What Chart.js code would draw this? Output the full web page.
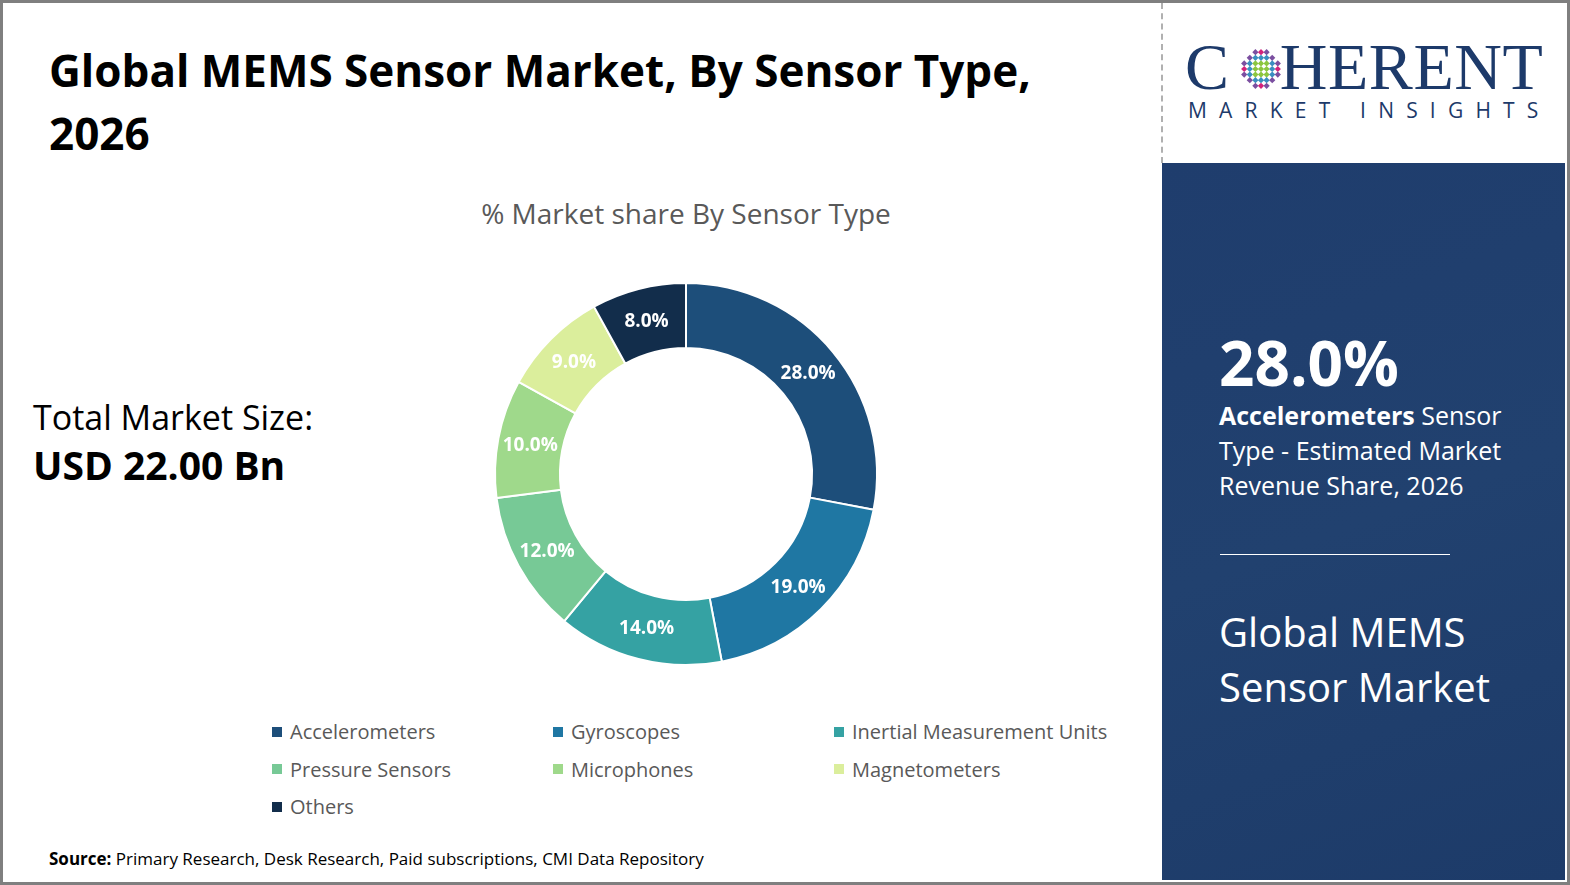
<!DOCTYPE html>
<html>
<head>
<meta charset="utf-8">
<script src="https://cdn.jsdelivr.net/npm/chart.js@4.4.0/dist/chart.umd.min.js"></script>
<style>
    body { margin: 0; width: 1570px; height: 885px; overflow: hidden; background: #fff; font-family: "Open Sans", "Noto Sans", sans-serif; position: relative; }
    .abs { position: absolute; white-space: nowrap; }
    #frame { left: 0; top: 0; width: 1564px; height: 879px; border: 3px solid #7f7f7f; }
    #title { left: 49px; top: 39px; font-size: 44px; font-weight: 700; color: #000; line-height: 63px; }
    #subtitle { left: 0; width: 1372px; text-align: center; top: 194px; font-size: 28px; color: #595959; }
    #totalLabel { left: 33px; top: 394px; font-size: 34px; color: #000; line-height: 46px; }
    #totalValue { left: 33px; top: 440px; font-size: 39px; font-weight: 700; color: #000; line-height: 50px; }
    #source { left: 49px; top: 847px; font-size: 17px; color: #000; }
    #chartBox { left: 486px; top: 274px; width: 400px; height: 400px; }
    #legend { left: 272px; top: 718px; }
    .lg-item { position: absolute; font-size: 20px; color: #595959; display: flex; align-items: center; }
    .lg-box { width: 10px; height: 10px; margin-right: 8px; }
    #dash { left: 1161px; top: 3px; height: 160px; border-left: 2px dashed #b0b0b0; }
    #panel { left: 1162px; top: 163px; width: 403px; height: 717px; background: linear-gradient(160deg, #1f3d6d 0%, #21416f 50%, #1d3b69 100%); color: #fff; }
    #big { left: 57px; top: 171px; font-size: 62px; font-weight: 700; line-height: 56px; }
    #desc { left: 57px; top: 235px; font-size: 25px; line-height: 35px; }
    #rule { left: 58px; top: 391px; width: 230px; border-top: 1.5px solid #fff; }
    #market { left: 57px; top: 441px; font-size: 40px; line-height: 55px; }
    #logo1 { left: 1185px; top: 41px; font-family: "Liberation Serif", serif; font-size: 66px; line-height: 52px; color: #1d3a6a; letter-spacing: 0.6px; }
    #logo2 { left: 1188px; top: 101px; font-family: "Open Sans", sans-serif; font-size: 21px; line-height: 19px; color: #1d3a6a; letter-spacing: 12.2px; }
    #dots { left: 1238px; top: 46px; }
</style>
</head>
<body>
<div id="frame" class="abs"></div>
<div id="title" class="abs">Global MEMS Sensor Market, By Sensor Type,<br>2026</div>
<div id="subtitle" class="abs">% Market share By Sensor Type</div>
<div id="totalLabel" class="abs">Total Market Size:</div>
<div id="totalValue" class="abs">USD 22.00 Bn</div>
<div id="chartBox" class="abs"><canvas id="chart" width="400" height="400"></canvas></div>
<div id="legend" class="abs"></div>
<div id="source" class="abs"><b>Source:</b> Primary Research, Desk Research, Paid subscriptions, CMI Data Repository</div>

<div id="dash" class="abs"></div>
<div id="logo1" class="abs">C<span style="display:inline-block;width:50px"></span>HERENT</div>
<svg id="dots" class="abs" width="46" height="46" viewBox="0 0 46 46"></svg>
<div id="logo2" class="abs">MARKET INSIGHTS</div>

<div id="panel" class="abs">
    <div id="big" class="abs">28.0%</div>
    <div id="desc" class="abs"><b>Accelerometers</b> Sensor<br>Type - Estimated Market<br>Revenue Share, 2026</div>
    <div id="rule" class="abs"></div>
    <div id="market" class="abs">Global MEMS<br>Sensor Market</div>
</div>

<script>
// Dados do gráfico
const categories = ['Accelerometers', 'Gyroscopes', 'Inertial Measurement Units', 'Pressure Sensors', 'Microphones', 'Magnetometers', 'Others'];
const shares = [28.0, 19.0, 14.0, 12.0, 10.0, 9.0, 8.0];
const colors = ['#1d4e7a', '#1f77a3', '#35a2a3', '#77c996', '#9fd98b', '#dbee9c', '#122d4b'];

// logo "O" feito de pontinhos
(function drawDots() {
    const svg = document.getElementById('dots');
    let html = '';
    for (let r = 0; r < 7; r++) {
        for (let c = 0; c < 7; c++) {
            const dx = c - 3, dy = r - 3;
            const d = Math.sqrt(dx * dx + dy * dy);
            if (d > 3.3) continue;
            let col = '#3a8fc0';
            if (d < 1.5) col = '#8cc63f';
            else if (d > 2.6) col = (r + c) % 2 ? '#d4237a' : '#7b4fa0';
            html += `<rect x="${4 + c * 5.6}" y="${4 + r * 5.6}" width="4.4" height="4.4" transform="rotate(45 ${6.2 + c * 5.6} ${6.2 + r * 5.6})" fill="${col}"/>`;
        }
    }
    svg.innerHTML = html;
})();

// Rótulos dentro das fatias
const sliceLabels = {
    id: 'sliceLabels',
    afterDatasetsDraw(chart) {
        const ctx = chart.ctx;
        const meta = chart.getDatasetMeta(0);
        ctx.save();
        ctx.font = 'bold 19px "Open Sans", sans-serif';
        ctx.fillStyle = '#ffffff';
        ctx.textAlign = 'center';
        ctx.textBaseline = 'middle';
        meta.data.forEach((arc, i) => {
            const pos = arc.tooltipPosition();
            ctx.fillText(shares[i].toFixed(1) + '%', pos.x, pos.y + 1);
        });
        ctx.restore();
    }
};

const chart = new Chart(document.getElementById('chart'), {
    type: 'doughnut',
    data: {
        labels: categories,
        datasets: [{
            data: shares,
            backgroundColor: colors,
            borderColor: '#ffffff',
            borderWidth: 2
        }]
    },
    options: {
        responsive: false,
        animation: false,
        cutout: '66%',
        layout: { padding: 8 },
        plugins: {
            legend: { display: false },
            tooltip: { enabled: false }
        }
    },
    plugins: [sliceLabels]
});

// Legenda em HTML (3 colunas)
const legendEl = document.getElementById('legend');
const items = Chart.overrides.doughnut.plugins.legend.labels.generateLabels(chart);
items.forEach((item, i) => {
    const div = document.createElement('div');
    div.className = 'lg-item';
    div.style.left = (i % 3) * 281 + 'px';
    div.style.top = Math.floor(i / 3) * 37.5 + 'px';
    div.innerHTML = `<span class="lg-box" style="background:${item.fillStyle}"></span>${item.text}`;
    legendEl.appendChild(div);
});
</script>
</body>
</html>
